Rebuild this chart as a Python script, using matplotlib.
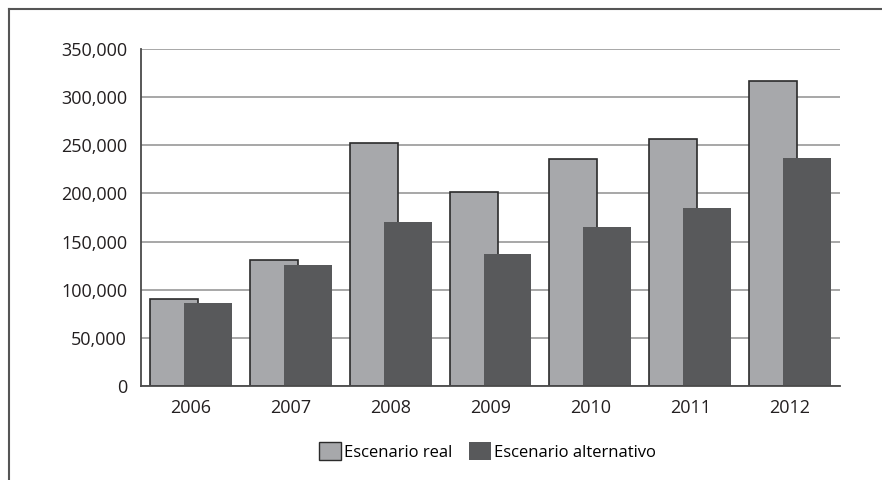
import matplotlib
matplotlib.use("Agg")
import matplotlib.pyplot as plt
from matplotlib.lines import Line2D
from matplotlib.patches import Patch
from matplotlib.ticker import FuncFormatter
import numpy as np

plt.rcParams['font.family'] = ['Open Sans', 'DejaVu Sans']

years = ["2006", "2007", "2008", "2009", "2010", "2011", "2012"]
real = [90000, 131000, 252000, 201500, 235500, 256500, 316500]
alternativo = [86000, 125500, 170000, 137000, 165500, 184500, 236500]
series_names = ["Escenario real", "Escenario alternativo"]

light = "#a7a8ab"
dark = "#58595b"

fig = plt.figure(figsize=(8.82, 4.8), dpi=100)
ax = fig.add_axes([0.1599, 0.1958, 0.7925, 0.7021])

x = np.arange(len(years))
w = 0.48
ax.bar(x - 0.17, real, width=w, color=light, edgecolor="#2b2b2b", linewidth=1.2, zorder=2)
ax.bar(x + 0.17, alternativo, width=w, color=dark, edgecolor="none", zorder=3)

ax.set_xlim(-0.5, len(years) - 0.5)
ax.set_ylim(0, 350000)
ax.set_yticks(np.arange(0, 350001, 50000))
ax.yaxis.set_major_formatter(FuncFormatter(lambda v, p: f"{int(v):,}"))
ax.set_xticks(x)
ax.set_xticklabels(years)
ax.tick_params(axis="both", length=0, labelsize=13, colors="#231f20")
ax.tick_params(axis="y", pad=10)
ax.tick_params(axis="x", pad=9)

ax.grid(axis="y", color="#a0a0a0", linewidth=1.3, zorder=0)
ax.set_axisbelow(True)
for s in ["top", "right"]:
    ax.spines[s].set_visible(False)
for s in ["left", "bottom"]:
    ax.spines[s].set_color("#4a4a4a")
    ax.spines[s].set_linewidth(1.3)
    ax.spines[s].set_zorder(4)

handles = [Patch(facecolor=light, edgecolor="#2b2b2b", linewidth=1.0),
           Patch(facecolor=dark, edgecolor="none")]
fig.legend(handles, series_names, loc="center", bbox_to_anchor=(0.553, 0.06),
           ncol=2, frameon=False, fontsize=12, handlelength=1.3, handleheight=1.3,
           handletextpad=0.2, columnspacing=1.0)

# outer frame (top and left edges visible)
fig.add_artist(Line2D([9 / 882, 9 / 882], [0, 1 - 9 / 480], transform=fig.transFigure,
                      color="#555555", linewidth=1.5))
fig.add_artist(Line2D([9 / 882, 1], [1 - 9 / 480, 1 - 9 / 480], transform=fig.transFigure,
                      color="#555555", linewidth=1.5))

fig.savefig("out.png", dpi=100)
